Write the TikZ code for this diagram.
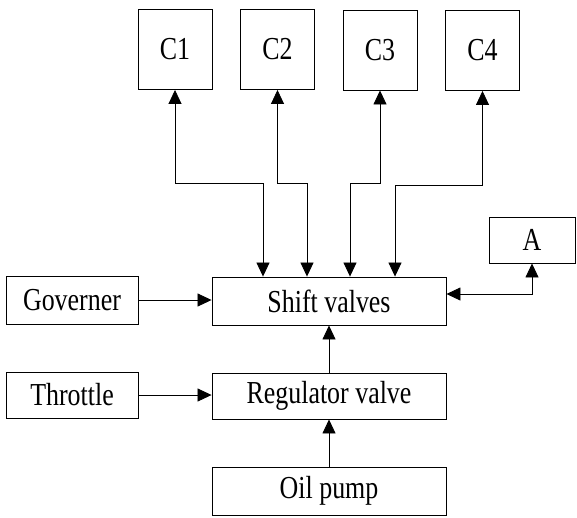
\documentclass[tikz,border=0pt]{standalone}
\usepackage{fontspec}
\usepackage{graphicx}
\setmainfont{Liberation Serif}
\usetikzlibrary{arrows.meta}
\newcommand{\sqz}[1]{\scalebox{0.81}[1]{#1}}
\begin{document}
\begin{tikzpicture}[x=1pt,y=-1pt,
  box/.style={draw,line width=0.9pt,inner sep=0pt,font=\fontsize{32}{36}\selectfont},
  tip/.style={-{Triangle[length=14pt,width=13pt]}},
  dbl/.style={{Triangle[length=14pt,width=13pt]}-{Triangle[length=14pt,width=13pt]}},
  conn/.style={line width=0.8pt}]
\useasboundingbox (0,0) rectangle (577,517);
\node[box,minimum width=74pt,minimum height=80pt] (C1) at (175,49.5) {\sqz{C1}};
\node[box,minimum width=74pt,minimum height=80pt] (C2) at (277.5,49.5) {\sqz{C2}};
\node[box,minimum width=74pt,minimum height=80pt] (C3) at (380,50) {\sqz{C3}};
\node[box,minimum width=74pt,minimum height=80pt] (C4) at (482.5,50.5) {\sqz{C4}};
\node[box,minimum width=86pt,minimum height=46pt] (A) at (532,240) {\sqz{A}};
\node[box,minimum width=132pt,minimum height=48pt] (G) at (72,300) {\sqz{Governer}};
\node[box,minimum width=234pt,minimum height=48pt] (S) at (329,301) {\sqz{Shift valves}};
\node[box,minimum width=132pt,minimum height=46pt] (T) at (72,395) {\sqz{Throttle}};
\node[box,minimum width=234pt,minimum height=46pt] (R) at (329,396) {\sqz{Regulator valve}};
\node[box,minimum width=234pt,minimum height=48pt] (O) at (329,491) {\sqz{Oil pump}};
\coordinate (h) at (0,183);
\coordinate (h4) at (0,185);
\coordinate (s1) at ([xshift=-66pt]S.north);
\coordinate (s2) at ([xshift=-22pt]S.north);
\coordinate (s3) at ([xshift=21pt]S.north);
\coordinate (s4) at ([xshift=66pt]S.north);
\coordinate (sa) at ([yshift=7pt]S.east);
\draw[conn,dbl] (C1.south) |- (s1 |- h) -- (s1);
\draw[conn,dbl] (C2.south) |- (s2 |- h) -- (s2);
\draw[conn,dbl] (C3.south) |- (s3 |- h) -- (s3);
\draw[conn,dbl] (C4.south) |- (s4 |- h4) -- (s4);
\draw[conn,dbl] (A.south) |- (sa);
\draw[conn,tip] (G.east) -- (S.west |- G.east);
\draw[conn,tip] (T.east) -- (R.west |- T.east);
\draw[conn,tip] (R.north) -- (S.south);
\draw[conn,tip] (O.north) -- (R.south);
\end{tikzpicture}
\end{document}
